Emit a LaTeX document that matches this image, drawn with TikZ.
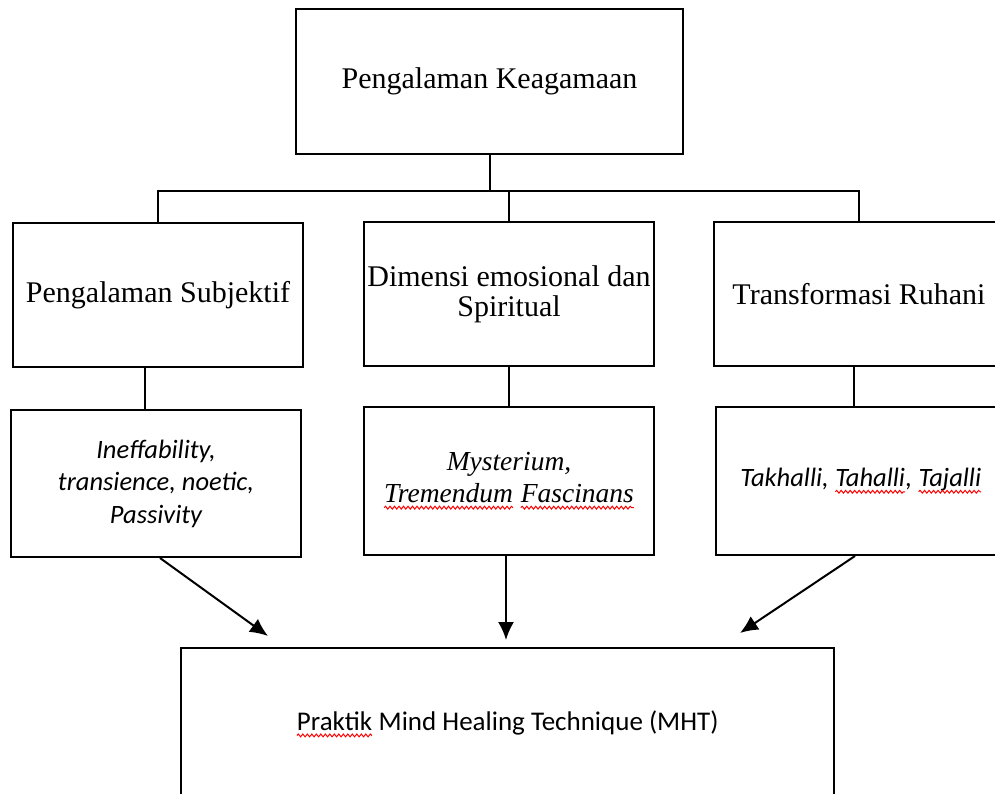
\documentclass[tikz,border=0pt]{standalone}
\usepackage{fontspec}
\setmainfont{Liberation Serif}
\newfontfamily\calibri{Carlito}
\usetikzlibrary{arrows.meta,decorations.pathmorphing}
\newcommand\redsq[1]{\tikz[baseline=(w.base)]{%
  \node[draw=none, fill=none, minimum width=0pt, minimum height=0pt, inner sep=0pt, outer sep=0pt] (w) {#1};
  \draw[red, line width=1pt, decorate, decoration={snake, amplitude=1.4pt, segment length=4.5pt}]
    ([yshift=-5pt]w.base west) -- ([yshift=-5pt]w.base east);}}
\begin{document}
\begin{tikzpicture}[x=1pt,y=-1pt,
  box/.style={draw, line width=2pt, inner sep=0pt, align=center},
  link/.style={line width=2pt},
  arr/.style={line width=2pt, -{Latex[length=18pt,width=16pt]}},
  serifbig/.style={font=\fontsize{30}{30}\selectfont},
  serifit/.style={font=\fontsize{27.5}{32}\selectfont\itshape},
  sansit/.style={font=\calibri\fontsize{26.5}{32.5}\selectfont\itshape},
  sansup/.style={font=\calibri\fontsize{27}{32}\selectfont}]
\useasboundingbox (0,0) rectangle (995,794);
\clip (0,0) rectangle (995,794);

\node[box, serifbig, minimum width=387pt, minimum height=145pt] (top) at (489.5,81.5) {Pengalaman Keagamaan};

\node[box, serifbig, minimum width=290pt, minimum height=144pt] (sub) at (158,295) {Pengalaman Subjektif};
\node[box, serifbig, minimum width=290pt, minimum height=144pt] (dim) at (509,294) {Dimensi emosional dan\\Spiritual};
\node[box, serifbig, minimum width=290pt, minimum height=144pt] (trans) at (859,294) {Transformasi Ruhani};

\node[box, sansit, minimum width=290pt, minimum height=147pt] (ineff) at (156,483.5) {Ineffability,\\transience, noetic,\\Passivity};
\node[box, serifit, minimum width=290pt, minimum height=148pt] (myst) at (509,481) {Mysterium,\\\redsq{Tremendum} \redsq{Fascinans}};
\node[box, sansit, minimum width=290pt, minimum height=148pt] (taj) at (861,481) {Takhalli, \redsq{Tahalli}, \redsq{Tajalli}};

\node[box, sansup, minimum width=653pt, minimum height=152pt] (mht) at (507.5,724) {\redsq{Praktik} Mind Healing Technique (MHT)};

% tree connectors
\coordinate (bus) at (490,191);
\draw[link] ([xshift=0.5pt]top.south) -- (bus);
\draw[link] (bus) -| (sub.north);
\draw[link] (bus) -| (trans.north);
\draw[link] (dim.north) -- (dim.north |- bus);

\draw[link] ([xshift=-13pt]sub.south) -- ([xshift=-13pt]sub.south |- ineff.north);
\draw[link] (dim.south) -- (myst.north);
\draw[link] ([xshift=-5pt]trans.south) -- ([xshift=-5pt]trans.south |- taj.north);

% arrows to the bottom box
\coordinate (t1) at (268,636);
\coordinate (t2) at (506,640);
\coordinate (t3) at (740,633);
\draw[arr] ([xshift=4pt]ineff.south) -- (t1);
\draw[arr] ([xshift=-3pt]myst.south) -- (t2);
\draw[arr] ([xshift=-6pt]taj.south) -- (t3);
\end{tikzpicture}
\end{document}
